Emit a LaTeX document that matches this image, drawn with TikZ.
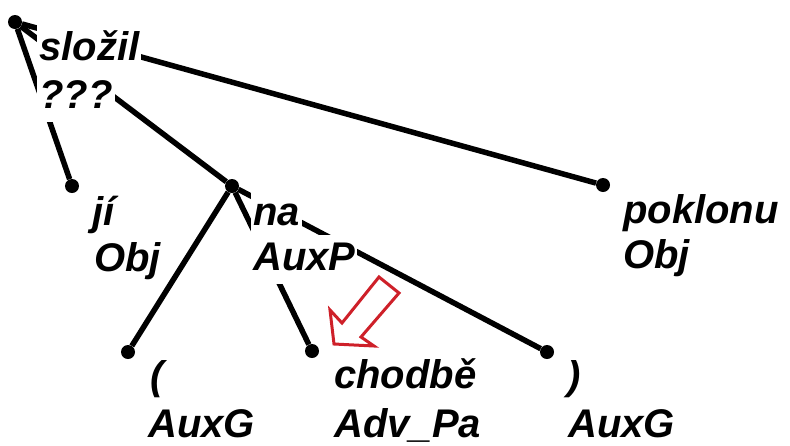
\documentclass[tikz,border=0pt]{standalone}
\usepackage{fontspec}
\setmainfont{Liberation Sans}
\definecolor{arrowred}{RGB}{206,32,41}
\tikzset{
	dot/.style={circle, fill=black, inner sep=0pt, minimum size=14pt},
	edge/.style={line width=5.5pt},
	lbl/.style={fill=white, inner sep=2pt, anchor=base west, text height=33pt, text depth=12pt, font=\fontsize{40}{42}\selectfont\bfseries\itshape},
}
\begin{document}
\begin{tikzpicture}[x=1pt, y=-1pt]
	\useasboundingbox (0, 0) rectangle (790, 445);

	\node[dot] (slozil) at (15, 22) {};
	\node[dot] (ji) at (72, 186) {};
	\node[dot] (na) at (232, 186) {};
	\node[dot] (poklonu) at (603, 185) {};
	\node[dot] (lpar) at (128, 352) {};
	\node[dot] (chodbe) at (312, 351) {};
	\node[dot] (rpar) at (547, 352) {};

	\draw[edge] (slozil) -- (ji);
	\draw[edge] (slozil) -- (na);
	\draw[edge] (slozil) -- (poklonu);
	\draw[edge] (na) -- (lpar);
	\draw[edge] (na) -- (chodbe);
	\draw[edge] (na) -- (rpar);

	\node[lbl] (slozil-w) at ([shift={(22, 38)}]slozil) {složil};
	\node[lbl] (slozil-f) at ([shift={(22, 86)}]slozil) {???};
	\node[lbl] (ji-w) at ([shift={(18, 39)}]ji) {jí};
	\node[lbl] (ji-f) at ([shift={(20, 85)}]ji) {Obj};
	\node[lbl] (na-w) at ([shift={(19, 39)}]na) {na};
	\node[lbl] (na-f) at ([shift={(19, 84)}]na) {AuxP};
	\node[lbl] (poklonu-w) at ([shift={(18, 38)}]poklonu) {poklonu};
	\node[lbl] (poklonu-f) at ([shift={(18, 83)}]poklonu) {Obj};
	\node[lbl] (lpar-w) at ([shift={(20, 37)}]lpar) {(};
	\node[lbl] (lpar-f) at ([shift={(18, 85)}]lpar) {AuxG};
	\node[lbl] (chodbe-w) at ([shift={(20, 37)}]chodbe) {chodbě};
	\node[lbl] (chodbe-f) at ([shift={(20, 86)}]chodbe) {Adv\_Pa};
	\node[lbl] (rpar-w) at ([shift={(18, 37)}]rpar) {)};
	\node[lbl] (rpar-f) at ([shift={(19, 85)}]rpar) {AuxG};

	\draw[arrowred, line width=3pt] (334, 344) -- (330, 310) -- (342, 323) -- (379, 277) -- (399, 293) -- (361, 337) -- (374, 346) -- cycle;
\end{tikzpicture}
\end{document}
